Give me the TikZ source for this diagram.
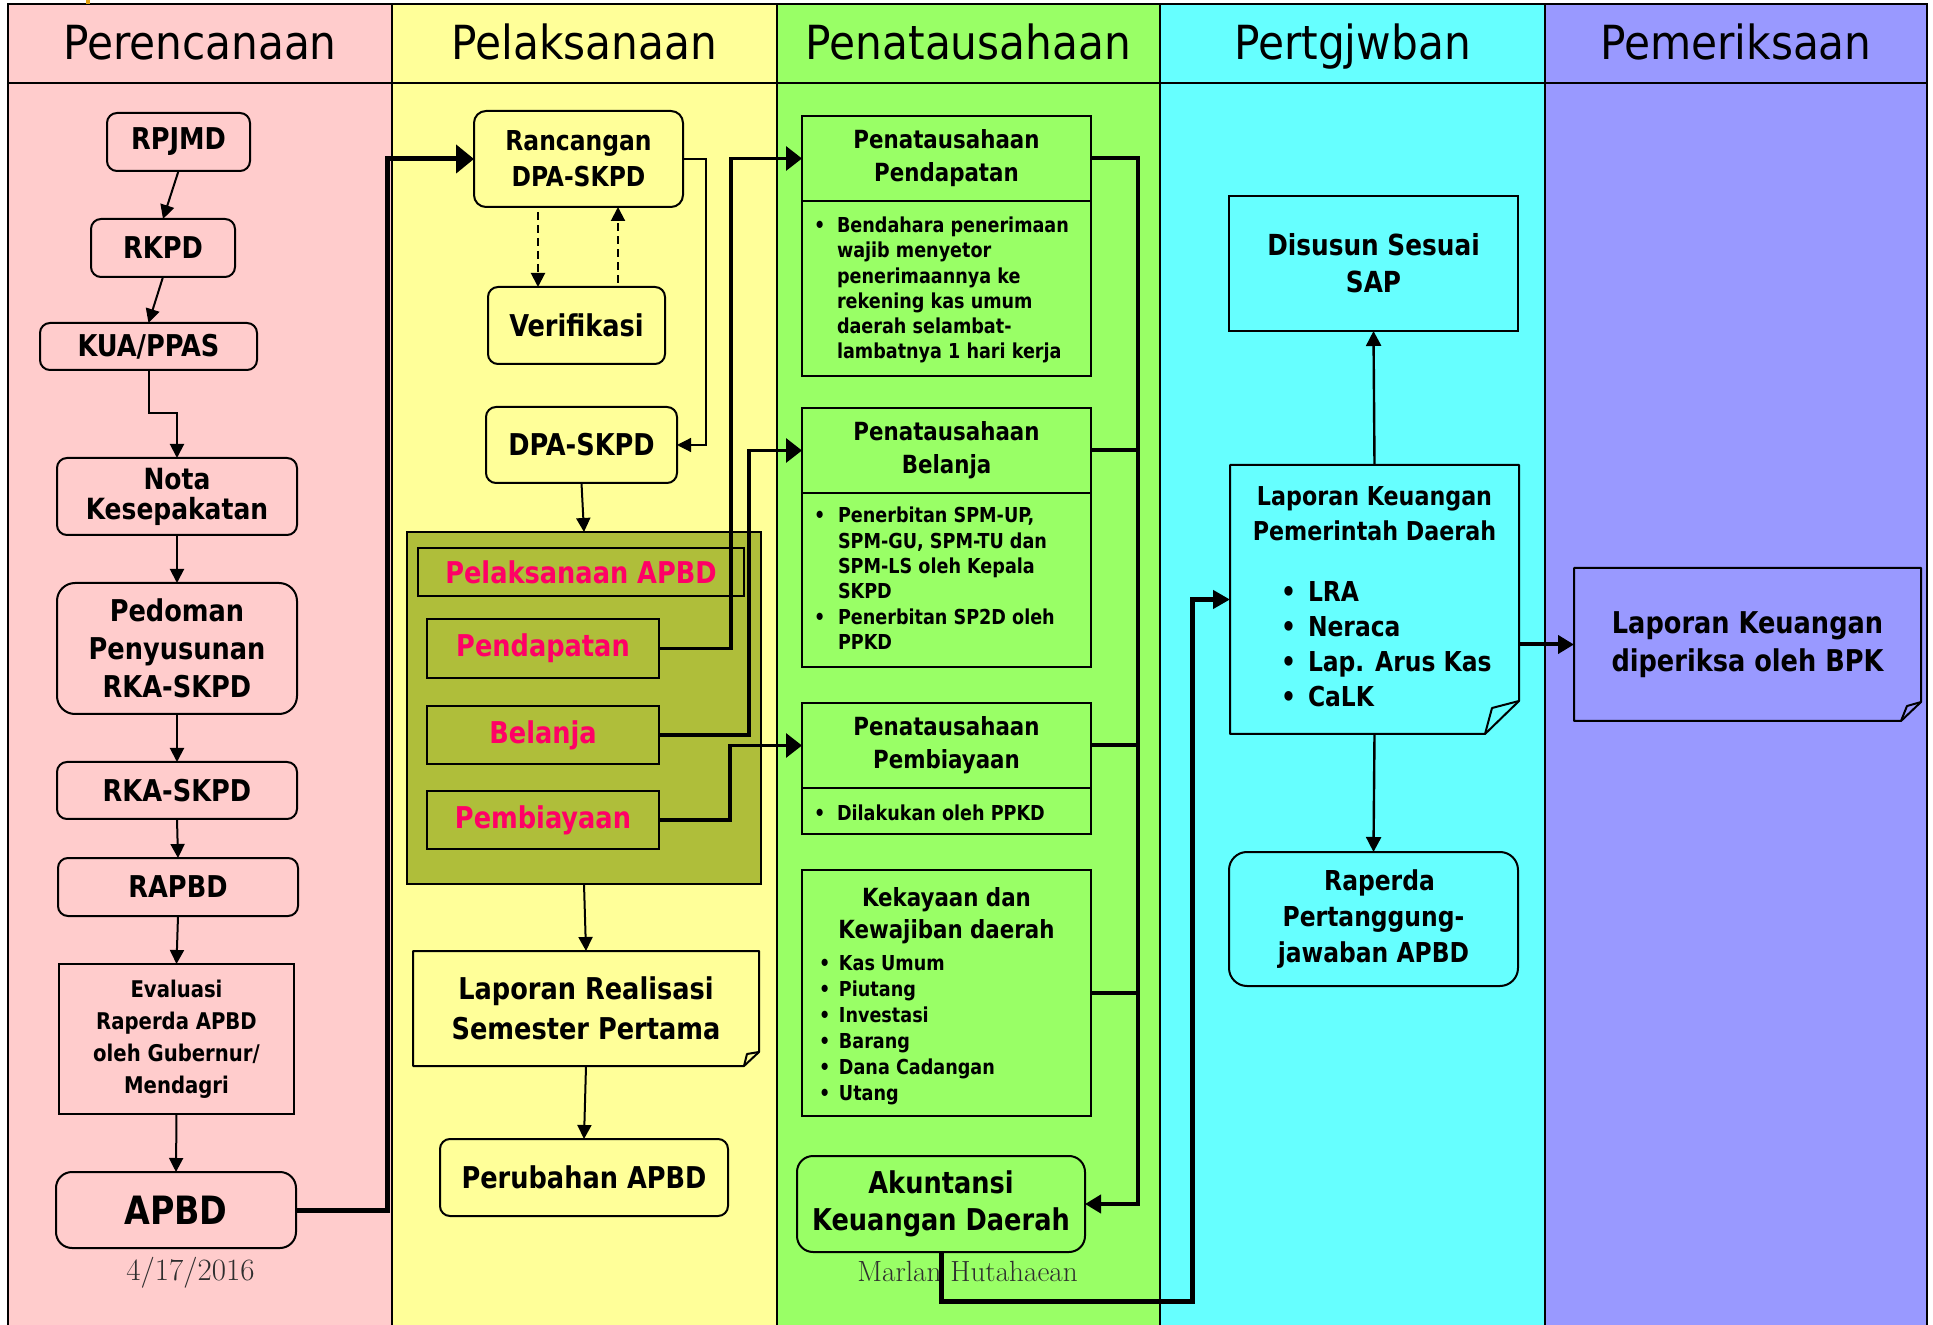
\documentclass[tikz,border=0pt]{standalone}
\usepackage{fontspec}
\newfontfamily\dv[FakeStretch=0.95]{DejaVu Sans Condensed}
\newfontfamily\dvh{DejaVu Sans Condensed}
\newfontfamily\gar{Latin Modern Roman}
\usetikzlibrary{arrows.meta,calc}

\definecolor{laneA}{HTML}{FFCCCC}
\definecolor{laneB}{HTML}{FFFF99}
\definecolor{laneC}{HTML}{99FF66}
\definecolor{laneD}{HTML}{66FFFF}
\definecolor{laneE}{HTML}{9999FF}
\definecolor{olivegrp}{RGB}{175,190,58}
\definecolor{hotpink}{HTML}{FF0066}
\definecolor{footgrey}{HTML}{2E2E2E}
\definecolor{tickorange}{HTML}{E0A010}

% bold sans at a given size / baseline skip
\newcommand\bfz[2]{\dv\bfseries\fontsize{#1}{#2}\selectfont}
% bullet and hanging indent for bullet lists
\newcommand\bult[1]{\makebox[#1][l]{•}}
\newcommand\indt[1]{\hspace*{#1}}

% box from corner (x1,y1) to (x2,y2), in pixel units
\newcommand\placebox[7]{%
  \pgfmathsetmacro\pbX{(#3+#5)/2}%
  \pgfmathsetmacro\pbY{(#4+#6)/2}%
  \pgfmathsetmacro\pbW{(#5-#3)*0.5}%
  \pgfmathsetmacro\pbH{(#6-#4)*0.5}%
  \node[#1, minimum width=\pbW pt, minimum height=\pbH pt] (#2) at (\pbX,\pbY) {#7};}

% document outline with a folded bottom-right corner
\newcommand\docshape[9]{%
  \filldraw[fill=#9, line width=1pt, line join=round]
    (#1,#2) -- (#3,#2) -- (#3,#4-#6) -- (#3-#5,#4) -- (#1,#4) -- cycle;
  \draw[line width=1pt, line join=round] (#3,#4-#6) -- (#3-#7,#4-#8) -- (#3-#5,#4);}

\tikzset{
  box/.style={draw, line width=1pt, inner sep=0pt, outer sep=0pt, align=center},
  rbox/.style={box, rounded corners=5pt},
  ghost/.style={inner sep=0pt, outer sep=0pt, align=center},
  obox/.style={box, fill=olivegrp, text=hotpink, font=\bfz{15}{15}},
  hdr/.style={anchor=base, inner sep=0pt, font=\dvh\fontsize{23.5}{25}\selectfont},
  txt/.style={inner sep=0pt, outer sep=0pt, align=left},
  ln/.style={line width=1pt, -{Triangle[length=7pt,width=7pt]}},
  hair/.style={line width=0.6pt, -{Triangle[length=7pt,width=7pt]}},
  dsh/.style={line width=1pt, dash pattern=on 4pt off 2.5pt, -{Triangle[length=7pt,width=7pt]}},
  mid/.style={line width=1.6pt, -{Triangle[length=8pt,width=12pt]}},
  busl/.style={line width=2pt},
  big/.style={line width=2.5pt, -{Triangle[length=9pt,width=14pt]}},
  bigb/.style={line width=2.5pt, -{Triangle[length=8.5pt,width=9pt]}},
  lnsm/.style={line width=1.2pt, -{Triangle[length=7.5pt,width=7.5pt]}},
}

\begin{document}
\begin{tikzpicture}[x=0.5pt, y=-0.5pt]
\fill[white] (0,0) rectangle (1933,1325);
\useasboundingbox (0,0) rectangle (1933,1325);

% swimlanes
\fill[laneA] (8,4) rectangle (392,1325);
\fill[laneB] (392,4) rectangle (777,1325);
\fill[laneC] (777,4) rectangle (1160,1325);
\fill[laneD] (1160,4) rectangle (1545,1325);
\fill[laneE] (1545,4) rectangle (1927,1325);
\draw[line width=1pt] (8,1325) -- (8,4) -- (1927,4) -- (1927,1325);
\draw[line width=1pt] (8,83) -- (1927,83);
\foreach \lx in {392,777,1160,1545} \draw[line width=1pt] (\lx,4) -- (\lx,1325);
\fill[tickorange] (86,0) rectangle (90,4);

% lane titles
\node[hdr] (hA) at (200,60) {Perencanaan};
\node[hdr] (hB) at (584.5,60) {Pelaksanaan};
\node[hdr] (hC) at (968.5,60) {Penatausahaan};
\node[hdr] (hD) at (1352.5,60) {Pertgjwban};
\node[hdr] (hE) at (1736,60) {Pemeriksaan};

% ---- Perencanaan
\placebox{rbox, font=\bfz{15}{18}}{rpjmd}{107}{113}{250}{171}{RPJMD}
\placebox{rbox, font=\bfz{15}{18}}{rkpd}{91}{219}{235}{277}{RKPD}
\placebox{rbox, font=\bfz{15}{18}}{kua}{40}{323}{257}{370}{KUA/PPAS}
\placebox{rbox, font=\bfz{14.6}{15}}{nota}{57}{458}{297}{535}{Nota\\Kesepakatan}
\placebox{rbox, rounded corners=9pt, font=\bfz{15}{19}}{pedoman}{57}{583}{297}{714}{Pedoman\\Penyusunan\\RKA-SKPD}
\placebox{rbox, font=\bfz{15}{18}}{rka}{57}{762}{297}{819}{RKA-SKPD}
\placebox{rbox, font=\bfz{15}{18}}{rapbd}{58}{858}{298}{916}{RAPBD}
\placebox{box, font=\bfz{11.5}{16}}{eval}{59}{964}{294}{1114}{Evaluasi\\Raperda APBD\\oleh Gubernur/\\Mendagri}
\placebox{rbox, rounded corners=8pt, font=\bfz{19.5}{20}}{apbd}{56}{1172}{296}{1248}{APBD}
\node[anchor=base, inner sep=0pt, text=footgrey, font=\gar\fontsize{15.5}{16}\selectfont] (date) at (190.5,1280) {4/17/2016};

% ---- Pelaksanaan
\placebox{rbox, rounded corners=6pt, font=\bfz{13.7}{18}}{ranc}{474}{111}{683}{207}{Rancangan\\DPA-SKPD}
\placebox{rbox, font=\bfz{15}{18}}{verif}{488}{287}{665}{364}{Verifikasi}
\placebox{rbox, font=\bfz{15}{18}}{dpa}{486}{407}{677}{483}{DPA-SKPD}
\placebox{box, fill=olivegrp, line width=1.2pt}{grp}{407}{532}{761}{884}{}
\placebox{obox}{ptitle}{418}{548}{744}{596}{Pelaksanaan APBD}
\placebox{obox}{pend}{427}{619}{659}{678}{Pendapatan}
\placebox{obox}{bel}{427}{706}{659}{764}{Belanja}
\placebox{obox}{pemb}{427}{791}{659}{849}{Pembiayaan}
\docshape{413}{951}{759}{1066}{15}{14}{12}{12}{laneB}
\placebox{ghost, font=\bfz{15}{20}}{lr}{413}{951}{759}{1066}{Laporan Realisasi\\Semester Pertama}
\placebox{rbox, font=\bfz{15}{18}}{perub}{440}{1139}{728}{1216}{Perubahan APBD}
\coordinate (dl) at (538,0);
\coordinate (dr) at (618,0);

% ---- Penatausahaan
\placebox{box, font=\bfz{12.5}{16.5}}{ppendh}{802}{116}{1091}{201}{Penatausahaan\\Pendapatan}
\placebox{box}{ppendb}{802}{201}{1091}{376}{}
\node[txt, anchor=north west, font=\bfz{10.3}{12.6}] (pendtxt) at (814,217)
  {\bult{11.5pt}Bendahara penerimaan\\\indt{11.5pt}wajib menyetor\\\indt{11.5pt}penerimaannya ke\\\indt{11.5pt}rekening kas umum\\\indt{11.5pt}daerah selambat-\\\indt{11.5pt}lambatnya 1 hari kerja};
\placebox{box, font=\bfz{12.5}{16.5}}{pbelh}{802}{408}{1091}{493}{Penatausahaan\\Belanja}
\placebox{box}{pbelb}{802}{493}{1091}{667}{}
\node[txt, anchor=north west, font=\bfz{10.3}{12.7}] (beltxt) at (814,507)
  {\bult{12pt}Penerbitan SPM-UP,\\\indt{12pt}SPM-GU, SPM-TU dan\\\indt{12pt}SPM-LS oleh Kepala\\\indt{12pt}SKPD\\\bult{12pt}Penerbitan SP2D oleh\\\indt{12pt}PPKD};
\placebox{box, font=\bfz{12.5}{16.5}}{ppembh}{802}{703}{1091}{788}{Penatausahaan\\Pembiayaan}
\placebox{box}{ppembb}{802}{788}{1091}{834}{}
\node[txt, anchor=north west, font=\bfz{10.3}{12.7}] (pembtxt) at (814,805)
  {\bult{11.5pt}Dilakukan oleh PPKD};
\placebox{box}{kek}{802}{870}{1091}{1116}{}
\node[ghost, anchor=north, font=\bfz{12.5}{16}] (kektitle) at (946.5,888)
  {Kekayaan dan\\Kewajiban daerah};
\node[txt, anchor=north west, font=\bfz{10.3}{13}] (kektxt) at (819,955)
  {\bult{10pt}Kas Umum\\\bult{10pt}Piutang\\\bult{10pt}Investasi\\\bult{10pt}Barang\\\bult{10pt}Dana Cadangan\\\bult{10pt}Utang};
\placebox{rbox, rounded corners=8pt, font=\bfz{15}{18.5}}{akun}{797}{1156}{1085}{1252}{Akuntansi\\Keuangan Daerah}
\node[anchor=base, inner sep=0pt, text=footgrey, font=\gar\fontsize{14.6}{16}\selectfont] (author) at (967.5,1281) {Marlan Hutahaean};
\coordinate (bus) at (1138,0);

% ---- Pertanggungjawaban
\placebox{box, font=\bfz{14.5}{18.5}}{sap}{1229}{196}{1518}{331}{Disusun Sesuai\\SAP}
\docshape{1230}{465}{1519}{734}{34}{33}{27}{26}{laneD}
\placebox{ghost}{lk}{1230}{465}{1519}{734}{}
\node[ghost, anchor=north, font=\bfz{13}{17.5}] (lktitle) at (1374.5,487)
  {Laporan Keuangan\\Pemerintah Daerah};
\node[txt, anchor=north west, font=\bfz{13.7}{17.5}] (lktxt) at (1281,582)
  {\bult{13.5pt}LRA\\\bult{13.5pt}Neraca\\\bult{13.5pt}Lap. Arus Kas\\\bult{13.5pt}CaLK};
\placebox{rbox, rounded corners=9pt, font=\bfz{13.7}{18}}{rap}{1229}{852}{1518}{986}{\hspace*{6pt}Raperda\\Pertanggung-\\jawaban APBD}

% ---- Pemeriksaan
\docshape{1574}{568}{1921}{721}{20}{19}{14}{15}{laneE}
\placebox{ghost, font=\bfz{15}{19}}{bpk}{1574}{568}{1921}{721}{Laporan Keuangan\\diperiksa oleh BPK}

% ---- connectors
\draw[ln] (rpjmd.south) -- (rkpd.north);
\draw[ln] (rkpd.south) -- (kua.north);
\draw[ln] (kua.south) -- ++(0,43) -| (nota.north);
\draw[ln] (nota.south) -- (pedoman.north);
\draw[ln] (pedoman.south) -- (rka.north);
\draw[ln] (rka.south) -- (rapbd.north);
\draw[ln] (rapbd.south) -- (eval.north);
\draw[ln] (eval.south) -- (apbd.north);
\draw[big] (apbd.east) -- (387,1210) |- (ranc.west);

\draw[dsh] ($(ranc.south -| dl)+(0,5)$) -- (verif.north -| dl);
\draw[dsh] ($(verif.north -| dr)+(0,-4)$) -- (ranc.south -| dr);
\draw[hair] (ranc.east) -- ++(23,0) |- (dpa.east);
\draw[ln] (dpa.south) -- (grp.north);
\draw[ln] (grp.south) -- (lr.north);
\draw[ln] (lr.south) -- (perub.north);

\draw[mid] (pend.east) -- ++(72,0) |- (ppendh.west);
\draw[mid] (bel.east) -- ++(90,0) |- (pbelh.west);
\draw[mid] (pemb.east) -- ++(71,0) |- (ppembh.west);

\draw[busl, -{Triangle[length=8pt,width=9pt]}] (ppendh.east) -- (ppendh.east -| bus) |- (akun.east);
\draw[busl] (pbelh.east) -- (pbelh.east -| bus);
\draw[busl] (ppembh.east) -- (ppembh.east -| bus);
\draw[busl] (kek.east) -- (kek.east -| bus);

\draw[bigb] (akun.south) |- (1192,1301) |- (lk.west);
\draw[lnsm] (lk.north) -- (sap.south);
\draw[lnsm] (lk.south) -- (rap.north);
\draw[line width=2pt, -{Triangle[length=8pt,width=9pt]}] (lk.east |- bpk.west) -- (bpk.west);
\end{tikzpicture}
\end{document}
